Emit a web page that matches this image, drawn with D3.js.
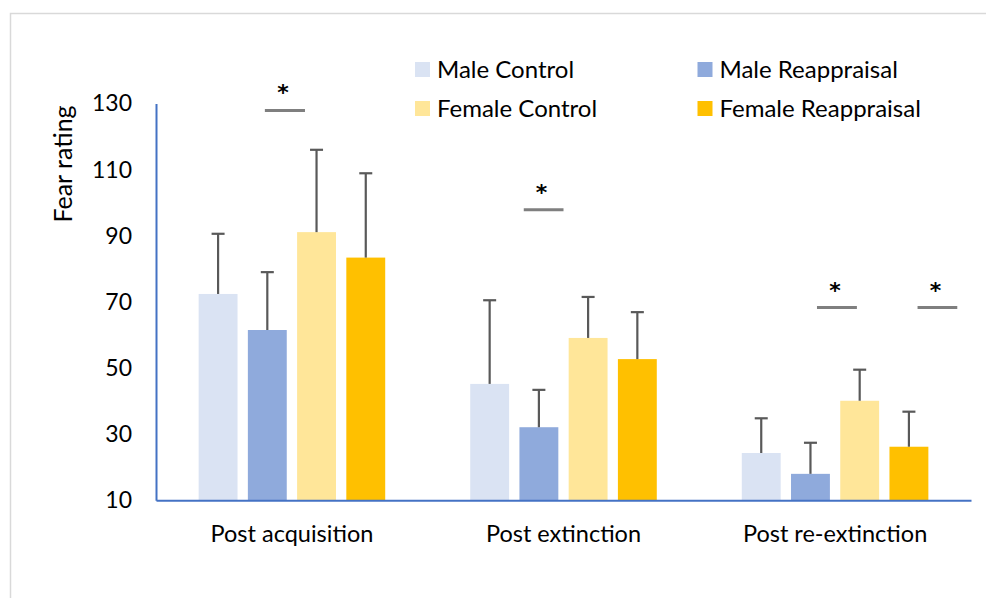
<!DOCTYPE html>
<html>
<head>
<meta charset="utf-8">
<script src="https://cdn.jsdelivr.net/npm/d3@7"></script>
<style>
    body { margin: 0; background: #fff; }
    #chart text { font-family: Lato, "Open Sans", sans-serif; fill: #000; }
</style>
</head>
<body>
<div id="chart"></div>
<script>
// Datos
const categories = ['Post acquisition', 'Post extinction', 'Post re-extinction'];
const series = ['Male Control', 'Male Reappraisal', 'Female Control', 'Female Reappraisal'];
const colors = ['#dae3f3', '#8faadc', '#ffe699', '#ffc000'];

const maleControl = [72.4, 45.2, 24.3];
const maleReappraisal = [61.5, 32.1, 18.0];
const femaleControl = [91.1, 59.1, 40.1];
const femaleReappraisal = [83.4, 52.7, 26.2];

const maleControlErr = [18.2, 25.3, 10.5];
const maleReappraisalErr = [17.5, 11.3, 9.4];
const femaleControlErr = [24.9, 12.4, 9.4];
const femaleReappraisalErr = [25.5, 14.2, 10.6];

const yTicks = [10, 30, 50, 70, 90, 110, 130];

// significance marks: group, start/end as share of the group width, level
const sigGroup = [0, 1, 2, 2];
const sigFrom = [0.355, 0.287, 0.403, 0.942];
const sigTo = [0.570, 0.500, 0.617, 1.155];
const sigLevel = [127.9, 97.9, 68.3, 68.3];

const values = [maleControl, maleReappraisal, femaleControl, femaleReappraisal];
const errors = [maleControlErr, maleReappraisalErr, femaleControlErr, femaleReappraisalErr];

let width = 986;
let height = 598;

let svg = d3.select('#chart').append('svg')
    .attr('width', width)
    .attr('height', height);

// marco
svg.append('rect')
    .attr('x', 10.5)
    .attr('y', 13.5)
    .attr('width', width)
    .attr('height', height)
    .attr('fill', 'none')
    .attr('stroke', '#d9d9d9')
    .attr('stroke-width', 1.5);

const x0 = d3.scaleBand()
    .domain(categories)
    .range([156, 971])
    .paddingInner(0.313)
    .paddingOuter(0.157);

const x1 = d3.scaleBand()
    .domain(series)
    .range([0, x0.bandwidth()])
    .paddingInner(0.21);

const y = d3.scaleLinear()
    .domain([10, 130])
    .range([500.3, 103.5]);

let rows = [];
series.forEach(function(s, si) {
    categories.forEach(function(c, ci) {
        rows.push({ serie: s, cat: c, value: values[si][ci], err: errors[si][ci], color: colors[si] });
    });
});

// barras
svg.append('g')
    .selectAll('rect')
    .data(rows)
    .enter()
    .append('rect')
    .attr('x', d => x0(d.cat) + x1(d.serie))
    .attr('y', d => y(d.value))
    .attr('width', x1.bandwidth())
    .attr('height', d => y(10) - y(d.value))
    .attr('fill', d => d.color);

// error bars
let errG = svg.append('g').attr('stroke', '#595959').attr('stroke-width', 2.2);
errG.selectAll('line.stem')
    .data(rows)
    .enter()
    .append('line')
    .attr('class', 'stem')
    .attr('x1', d => x0(d.cat) + x1(d.serie) + x1.bandwidth() / 2)
    .attr('x2', d => x0(d.cat) + x1(d.serie) + x1.bandwidth() / 2)
    .attr('y1', d => y(d.value))
    .attr('y2', d => y(d.value + d.err));
errG.selectAll('line.cap')
    .data(rows)
    .enter()
    .append('line')
    .attr('class', 'cap')
    .attr('x1', d => x0(d.cat) + x1(d.serie) + x1.bandwidth() / 2 - 6.5)
    .attr('x2', d => x0(d.cat) + x1(d.serie) + x1.bandwidth() / 2 + 6.5)
    .attr('y1', d => y(d.value + d.err))
    .attr('y2', d => y(d.value + d.err));

// ejes
let yAxis = svg.append('g')
    .attr('transform', 'translate(156,0)')
    .call(d3.axisLeft(y).tickValues(yTicks).tickSize(0).tickPadding(24));
yAxis.select('.domain').attr('stroke', '#4472c4').attr('stroke-width', 2);
yAxis.selectAll('text').style('font-size', '23px');

let xAxis = svg.append('g')
    .attr('transform', 'translate(0,' + y(10) + ')')
    .call(d3.axisBottom(x0).tickSize(0).tickPadding(25));
xAxis.select('.domain').attr('stroke', '#4472c4').attr('stroke-width', 2);
xAxis.selectAll('text').style('font-size', '23.5px');

svg.append('text')
    .attr('transform', 'translate(72,164) rotate(-90)')
    .attr('text-anchor', 'middle')
    .style('font-size', '25px')
    .text('Fear rating');

// significancia
let sig = sigGroup.map(function(g, i) {
    let gx = x0(categories[g]);
    let bw = x0.bandwidth();
    return { xa: gx + sigFrom[i] * bw, xb: gx + sigTo[i] * bw, level: sigLevel[i] };
});

svg.append('g')
    .selectAll('line')
    .data(sig)
    .enter()
    .append('line')
    .attr('x1', d => d.xa)
    .attr('x2', d => d.xb)
    .attr('y1', d => y(d.level))
    .attr('y2', d => y(d.level))
    .attr('stroke', '#7f7f7f')
    .attr('stroke-width', 3);

svg.append('g')
    .selectAll('text')
    .data(sig)
    .enter()
    .append('text')
    .attr('x', d => (d.xa + d.xb) / 2 - 2)
    .attr('y', d => y(d.level) - 10)
    .attr('text-anchor', 'middle')
    .style('font-family', '"DejaVu Sans", sans-serif')
    .style('font-size', '22px')
    .style('font-weight', 'bold')
    .text('*');

// leyenda
const legX = [415, 697.5];
const legY = [62, 101];
let leg = svg.append('g')
    .selectAll('g')
    .data(series)
    .enter()
    .append('g')
    .attr('transform', (d, i) => 'translate(' + legX[i % 2] + ',' + legY[Math.floor(i / 2)] + ')');
leg.append('rect')
    .attr('width', 15)
    .attr('height', 15)
    .attr('fill', (d, i) => colors[i]);
leg.append('text')
    .attr('x', 22)
    .attr('y', 8)
    .attr('dy', '0.35em')
    .style('font-size', '24px')
    .text(d => d);
</script>
</body>
</html>
